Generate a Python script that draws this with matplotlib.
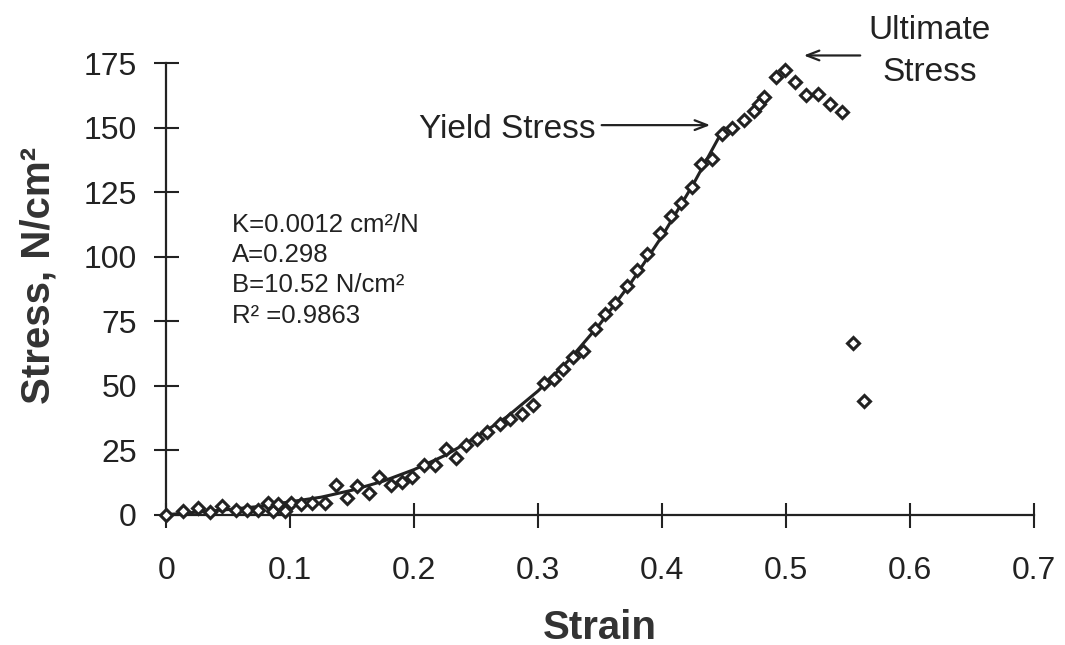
import matplotlib.pyplot as plt
import numpy as np

plt.rcParams.update({'font.family': 'Liberation Sans'})

# measured points (diamonds)
strain = [0, 0.014, 0.026, 0.035, 0.045, 0.056, 0.065, 0.074, 0.082, 0.086, 0.09, 0.096,
          0.101, 0.109, 0.118, 0.128, 0.137, 0.146, 0.154, 0.164, 0.172, 0.181, 0.19, 0.198,
          0.208, 0.217, 0.226, 0.234, 0.242, 0.251, 0.259, 0.269, 0.277, 0.287, 0.296, 0.305,
          0.313, 0.32, 0.328, 0.336, 0.346, 0.354, 0.362, 0.372, 0.38, 0.388, 0.398, 0.407,
          0.415, 0.424, 0.431, 0.44, 0.448, 0.456, 0.466, 0.474, 0.478, 0.482, 0.492, 0.499,
          0.507, 0.516, 0.526, 0.535, 0.545, 0.554, 0.563]
stress = [0, 1.5, 2.5, 1, 3.5, 2, 2, 2, 4.5, 1.5, 4.2, 1.5,
          4.5, 4, 4.6, 4.6, 11.5, 6.5, 11.2, 8.5, 14.6, 11.5, 12.7, 14.6,
          19.2, 19.2, 25.5, 22, 27, 29.5, 32, 35, 37, 39, 42.5, 51,
          52.5, 56.6, 61, 63.6, 72, 77.8, 82, 88.6, 95, 101, 109, 115.6,
          121, 127, 136, 138, 147.6, 150, 153, 156.5, 159, 162, 169.5, 172.3,
          167.7, 162.6, 163, 159, 156, 66.7, 44]

# fitted model curve
fit_strain = [0, 0.025, 0.05, 0.075, 0.1, 0.125, 0.15, 0.175, 0.2, 0.225, 0.25, 0.275,
              0.3, 0.325, 0.35, 0.375, 0.4, 0.425, 0.45]
fit_stress = [0, 1, 2, 3.2, 5, 6.8, 9.5, 13, 17.5, 23, 30, 38,
              48, 60, 74, 90, 108, 128, 150]

fig = plt.figure(figsize=(10.65, 6.45), dpi=100)
ax = fig.add_axes([0.156, 0.202, 0.815, 0.700])

ax.plot(fit_strain, fit_stress, color='#222222', lw=2.2, zorder=2)
ax.plot(strain, stress, ls='none', marker='D', ms=6.5, mfc='white', mec='#222222',
        mew=2.2, zorder=3, clip_on=False)

ax.set_xlim(0, 0.7)
ax.set_ylim(0, 175)
ax.set_xticks(np.arange(0, 0.71, 0.1))
ax.set_xticklabels(['0', '0.1', '0.2', '0.3', '0.4', '0.5', '0.6', '0.7'])
ax.set_yticks(np.arange(0, 176, 25))

for s in ['top', 'right']:
    ax.spines[s].set_visible(False)
for s in ['left', 'bottom']:
    ax.spines[s].set_linewidth(1.6)
    ax.spines[s].set_color('#222222')

ax.tick_params(axis='both', direction='inout', length=18, width=1.5, colors='#222222',
               labelsize=23, labelcolor='#222222')
ax.tick_params(axis='x', pad=21)
ax.tick_params(axis='y', pad=12)

ax.set_xlabel('Strain', fontsize=29, fontweight='bold', color='#333333', labelpad=16)
ax.set_ylabel('Stress, N/cm\u00b2', fontsize=29, fontweight='bold', color='#333333')
ax.yaxis.set_label_coords(-0.125, 0.53)

ax.text(0.053, 117, 'K=0.0012 cm\u00b2/N\nA=0.298\nB=10.52 N/cm\u00b2\nR\u00b2 =0.9863',
        fontsize=18.5, va='top', ha='left', linespacing=1.33, color='#222222')

ax.text(0.346, 149.3, 'Yield Stress', fontsize=24, ha='right', va='center', color='#222222')
ax.annotate('', xy=(0.441, 151), xytext=(0.349, 151),
            arrowprops=dict(arrowstyle='->,head_length=0.9,head_width=0.35', lw=1.6,
                            color='#222222'))

ax.text(0.616, 179.5, 'Ultimate\nStress', fontsize=24, ha='center', va='center',
        linespacing=1.45, color='#222222', clip_on=False)
ax.annotate('', xy=(0.512, 178), xytext=(0.562, 178),
            arrowprops=dict(arrowstyle='->,head_length=0.9,head_width=0.35', lw=1.6,
                            color='#222222'), annotation_clip=False)

fig.savefig('out.png', dpi=100)
